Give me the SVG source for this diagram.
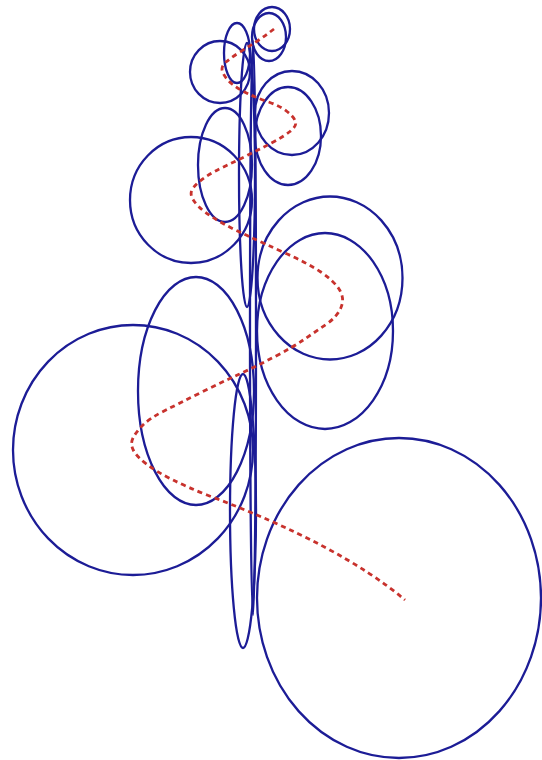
<svg xmlns="http://www.w3.org/2000/svg" width="542" height="760" viewBox="0 0 542 760">
<style>
.e{fill:none;stroke:#1c1c96;stroke-width:2.3}
.t{fill:none;stroke:#c8322d;stroke-width:2.8;stroke-dasharray:5 4}
</style>
<rect width="542" height="760" fill="#ffffff"/>
<g id="ellipses">
<ellipse class="e" cx="272" cy="29" rx="18" ry="22"/>
<ellipse class="e" cx="269" cy="37" rx="17" ry="24"/>
<ellipse class="e" cx="237" cy="53" rx="13" ry="30"/>
<ellipse class="e" cx="220" cy="72" rx="30" ry="31"/>
<ellipse class="e" cx="292" cy="113" rx="37" ry="42"/>
<ellipse class="e" cx="288" cy="136" rx="33" ry="49"/>
<ellipse class="e" cx="225" cy="165" rx="27" ry="57"/>
<ellipse class="e" cx="191" cy="200" rx="61" ry="63"/>
<ellipse class="e" cx="247" cy="175" rx="8" ry="132"/>
<ellipse class="e" cx="253" cy="328" rx="3" ry="287"/>
<ellipse class="e" cx="330" cy="278" rx="72.5" ry="81.5"/>
<ellipse class="e" cx="325" cy="331" rx="68" ry="98"/>
<ellipse class="e" cx="196" cy="391" rx="58" ry="114"/>
<ellipse class="e" cx="133" cy="450" rx="120" ry="125"/>
<ellipse class="e" cx="243" cy="511" rx="13" ry="137"/>
<ellipse class="e" cx="399" cy="598" rx="142" ry="160"/>
</g>
<g id="trajectory">
<path class="t" d="M274,29 L268,33.5 Q262,38 255,42.5 Q248,47 240,52 Q232,57 226,62 Q220,67 223,73 Q226,79 232,84 Q238,89 247.5,93.5 Q257,98 268.5,102 Q280,106 287,111.5 Q294,117 295.5,121.5 Q297,126 290,131.5 Q283,137 271.5,143 Q260,149 248,155 Q236,161 224.5,166.5 Q213,172 205.5,177 Q198,182 193.5,187.5 Q189,193 193,199.5 Q197,206 205,212 Q213,218 224,224 Q235,230 249,236.5 Q263,243 285,253 Q307,263 320,271.5 Q333,280 339,289 Q345,298 341,307.5 Q337,317 326,324.5 Q315,332 304,339.5 Q293,347 275,356.5 Q257,366 238.5,374.5 Q220,383 200,393 Q180,403 165,410.5 Q150,418 143,425 Q136,432 133,438 Q130,444 133.5,450.5 Q137,457 147,464.5 Q157,472 172,479.5 Q187,487 207,495 Q340,545 405,600"/>
</g>
</svg>
